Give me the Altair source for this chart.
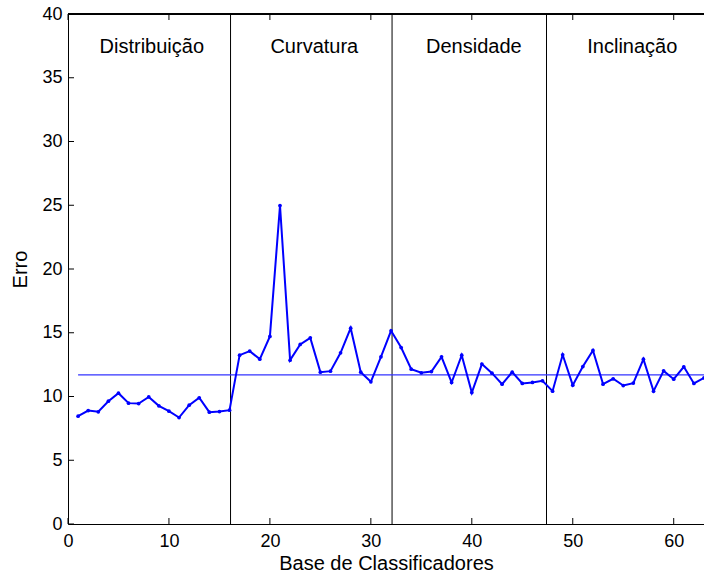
import altair as alt
import pandas as pd

# ---- data ----
base = list(range(1, 64))
erro = [8.46, 8.90, 8.80, 9.63, 10.26, 9.48, 9.45, 9.97, 9.27, 8.85, 8.35, 9.32, 9.90, 8.77, 8.82, 8.93,
        13.24, 13.56, 12.93, 14.71, 24.98, 12.85, 14.08, 14.60, 11.91, 11.99, 13.43, 15.36, 11.91, 11.15, 13.11, 15.15,
        13.84, 12.14, 11.86, 11.96, 13.11, 11.10, 13.24, 10.31, 12.54, 11.83, 10.97, 11.91, 11.02, 11.10, 11.23,
        10.42, 13.27, 10.89, 12.35, 13.61, 10.97, 11.39, 10.86, 11.05, 12.93, 10.42, 12.01, 11.36, 12.33, 11.02, 11.46]
separadores = [16.1, 32.1, 47.4]
grupos = ["Distribuição", "Curvatura", "Densidade", "Inclinação"]
grupos_x = [8.3, 24.4, 40.2, 55.9]
grupos_y = [37.4, 37.4, 37.4, 37.4]
x_ticks = [0, 10, 20, 30, 40, 50, 60]
y_ticks = [0, 5, 10, 15, 20, 25, 30, 35, 40]

W, H = 636, 510
FONT = "Liberation Sans"

df = pd.DataFrame({"base": base, "erro": erro})
media = float(sum(erro) / len(erro))
df_media = pd.DataFrame({"x1": [base[0]], "x2": [base[-1]], "m": [media]})
df_sep = pd.DataFrame({"s": separadores})
df_txt = pd.DataFrame({"g": grupos, "gx": grupos_x, "gy": grupos_y})
df_xt = pd.DataFrame({"t": x_ticks})
df_yt = pd.DataFrame({"t": y_ticks})

xs = alt.Scale(domain=[0, 63], nice=False, zero=False)
ys = alt.Scale(domain=[0, 40], nice=False)

xaxis = alt.Axis(values=x_ticks, tickSize=0, labelPadding=8, grid=False, labelFlush=False,
                 domainColor="black", domainWidth=1, labelFont=FONT, labelFontSize=18,
                 labelColor="black", title="Base de Classificadores", titleFont=FONT,
                 titleFontSize=20, titleFontWeight="normal", titleColor="black", titlePadding=3)
yaxis = alt.Axis(values=y_ticks, tickSize=0, labelPadding=6, grid=False, labelFlush=False,
                 domainColor="black", domainWidth=1, labelFont=FONT, labelFontSize=18,
                 labelColor="black", title="Erro", titleFont=FONT, titleFontSize=20,
                 titleFontWeight="normal", titleColor="black", titlePadding=11)

linha = alt.Chart(df).mark_line(
    color="#0000ff", strokeWidth=2,
    point=alt.OverlayMarkDef(filled=True, size=14, color="#0000ff")
).encode(
    x=alt.X("base:Q", scale=xs, axis=xaxis),
    y=alt.Y("erro:Q", scale=ys, axis=yaxis),
)

media_rule = alt.Chart(df_media).mark_rule(color="#3333ff", strokeWidth=1.2).encode(
    x=alt.X("x1:Q", scale=xs), x2="x2:Q", y=alt.Y("m:Q", scale=ys)
)

sep = alt.Chart(df_sep).mark_rule(color="black", strokeWidth=1).encode(
    x=alt.X("s:Q", scale=xs), y=alt.value(0), y2=alt.value(H)
)

txt = alt.Chart(df_txt).mark_text(font=FONT, fontSize=20, color="black", align="center",
                                  baseline="middle").encode(
    x=alt.X("gx:Q", scale=xs), y=alt.Y("gy:Q", scale=ys), text="g:N"
)

top = alt.Chart(df_xt).mark_rule(color="black", strokeWidth=1).encode(
    x=alt.value(0), x2=alt.value(W), y=alt.value(0)
)

xt_bottom = alt.Chart(df_xt).mark_rule(color="black", strokeWidth=1).encode(
    x=alt.X("t:Q", scale=xs), y=alt.value(H), y2=alt.value(H - 6)
)
xt_top = alt.Chart(df_xt).mark_rule(color="black", strokeWidth=1).encode(
    x=alt.X("t:Q", scale=xs), y=alt.value(0), y2=alt.value(6)
)
yt_left = alt.Chart(df_yt).mark_rule(color="black", strokeWidth=1).encode(
    y=alt.Y("t:Q", scale=ys), x=alt.value(0), x2=alt.value(6)
)

chart = alt.layer(sep, media_rule, linha, txt, top, xt_bottom, xt_top, yt_left).properties(
    width=W, height=H,
    autosize=alt.AutoSizeParams(type="none"),
    padding={"left": 68, "top": 14, "right": 0, "bottom": 52},
    background="white",
).configure_view(stroke=None)

chart.save("out.html", embed_options={"renderer": "svg", "actions": False})
